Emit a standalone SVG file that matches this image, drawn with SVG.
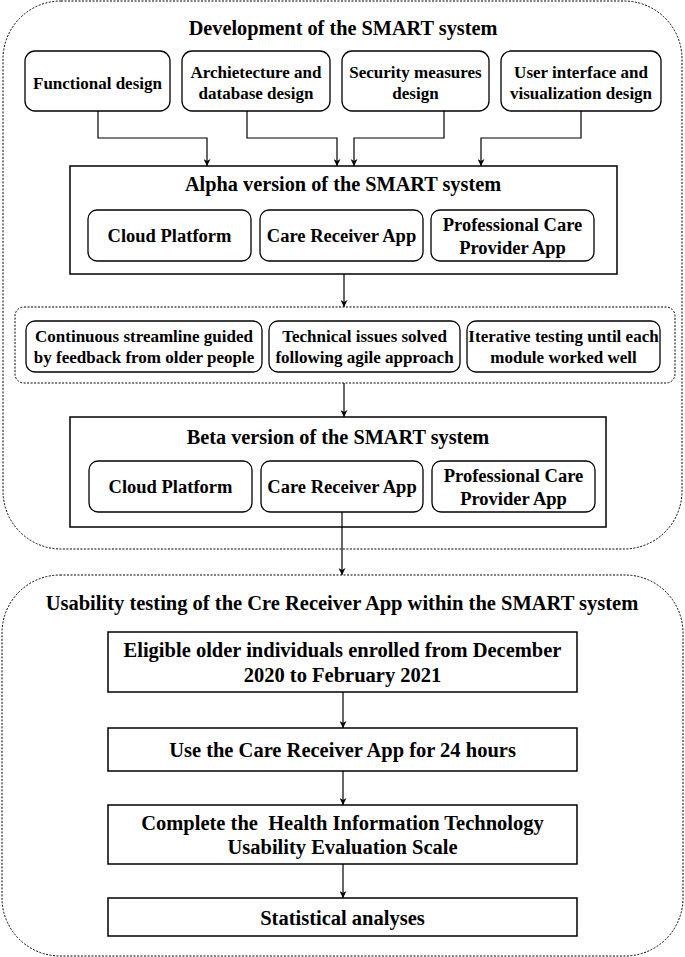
<svg xmlns="http://www.w3.org/2000/svg" width="685" height="957" viewBox="0 0 685 957">
<style>
text{font-family:"Liberation Serif","Times New Roman",serif;font-weight:bold;fill:#000;text-anchor:middle}
.t1{font-size:20.3px}
.t2{font-size:17px}
.t3{font-size:18.5px}
.t4{font-size:17px}
.t5{font-size:20.5px}
.grp{fill:none;stroke:#000;stroke-width:1;stroke-dasharray:2 1.5}
.rbox{fill:#fff;stroke:#000;stroke-width:1.3}
.sbox{fill:#fff;stroke:#000;stroke-width:1.5}
.conn{fill:none;stroke:#000;stroke-width:1.2}
</style>
<defs>
<marker id="arr" viewBox="0 0 10 10" refX="10" refY="5" markerWidth="7" markerHeight="7" orient="auto" markerUnits="userSpaceOnUse">
<path d="M0,0 L10,5 L0,10 L3,5 Z" fill="#000"/>
</marker>
</defs>

<g id="dev-group">
<rect class="grp" x="3" y="1" width="679" height="548" rx="58"/>
<text class="t1" x="343" y="35">Development of the SMART system</text>
</g>

<g id="functional">
<rect class="rbox" x="25" y="51" width="145" height="60" rx="10"/>
<text class="t2" x="97.5" y="89">Functional design</text>
</g>
<g id="architecture">
<rect class="rbox" x="182" y="51" width="148" height="60" rx="10"/>
<text class="t2" x="256" y="78">Archietecture and</text>
<text class="t2" x="256" y="99">database design</text>
</g>
<g id="security">
<rect class="rbox" x="342" y="51" width="147" height="60" rx="10"/>
<text class="t2" x="415.5" y="78">Security measures</text>
<text class="t2" x="415.5" y="99">design</text>
</g>
<g id="ui">
<rect class="rbox" x="501" y="51" width="160" height="60" rx="10"/>
<text class="t2" x="581" y="78">User interface and</text>
<text class="t2" x="581" y="99">visualization design</text>
</g>

<g id="alpha">
<rect class="sbox" x="70" y="166" width="547" height="108"/>
<text class="t1" x="343" y="191">Alpha version of the SMART system</text>
<rect class="rbox" x="88" y="210" width="163" height="51" rx="9"/>
<text class="t3" x="169.5" y="242">Cloud Platform</text>
<rect class="rbox" x="260" y="210" width="163" height="51" rx="9"/>
<text class="t3" x="341.5" y="242">Care Receiver App</text>
<rect class="rbox" x="431" y="210" width="163" height="51" rx="9"/>
<text class="t3" x="512.5" y="231">Professional Care</text>
<text class="t3" x="512.5" y="254">Provider App</text>
</g>

<g id="iteration">
<rect class="grp" x="15" y="307" width="660" height="76" rx="9"/>
<rect class="rbox" x="26" y="321" width="236" height="51" rx="9"/>
<text class="t4" x="144" y="342">Continuous streamline guided</text>
<text class="t4" x="144" y="363">by feedback from older people</text>
<rect class="rbox" x="269" y="321" width="191" height="51" rx="9"/>
<text class="t4" x="364.5" y="342">Technical issues solved</text>
<text class="t4" x="364.5" y="363">following agile approach</text>
<rect class="rbox" x="467" y="321" width="193" height="51" rx="9"/>
<text class="t4" x="563.5" y="342">Iterative testing until each</text>
<text class="t4" x="563.5" y="363">module worked well</text>
</g>

<g id="beta">
<rect class="sbox" x="70" y="417" width="536" height="110"/>
<text class="t1" x="338" y="444">Beta version of the SMART system</text>
<rect class="rbox" x="89" y="461" width="163" height="51" rx="9"/>
<text class="t3" x="170.5" y="493">Cloud Platform</text>
<rect class="rbox" x="261" y="461" width="162" height="51" rx="9"/>
<text class="t3" x="342" y="493">Care Receiver App</text>
<rect class="rbox" x="432" y="461" width="163" height="51" rx="9"/>
<text class="t3" x="513.5" y="482">Professional Care</text>
<text class="t3" x="513.5" y="505">Provider App</text>
</g>

<g id="usability-group">
<rect class="grp" x="2" y="575" width="681" height="381" rx="58"/>
<text class="t5" x="342" y="610">Usability testing of the Cre Receiver App within the SMART system</text>
</g>

<g id="enrolled">
<rect class="sbox" x="108" y="632" width="469" height="60"/>
<text class="t5" x="342.5" y="657">Eligible older individuals enrolled from December</text>
<text class="t5" x="342.5" y="682">2020 to February 2021</text>
</g>
<g id="use-app">
<rect class="sbox" x="108" y="728" width="469" height="43"/>
<text class="t5" x="342.5" y="757">Use the Care Receiver App for 24 hours</text>
</g>
<g id="complete">
<rect class="sbox" x="108" y="805" width="469" height="59"/>
<text class="t5" x="342.5" y="830" xml:space="preserve" style="white-space:pre">Complete the  Health Information Technology</text>
<text class="t5" x="342.5" y="854">Usability Evaluation Scale</text>
</g>
<g id="stats">
<rect class="sbox" x="108" y="898" width="469" height="38"/>
<text class="t5" x="342.5" y="925">Statistical analyses</text>
</g>

<g id="connectors">
<path class="conn" d="M98,111 V138 H207 V166" marker-end="url(#arr)"/>
<path class="conn" d="M247,111 V138 H337 V166" marker-end="url(#arr)"/>
<path class="conn" d="M444,111 V138 H354 V166" marker-end="url(#arr)"/>
<path class="conn" d="M581,111 V138 H481 V166" marker-end="url(#arr)"/>
<path class="conn" d="M344,274 V307" marker-end="url(#arr)"/>
<path class="conn" d="M344,383 V417" marker-end="url(#arr)"/>
<path class="conn" d="M342,512 V575" marker-end="url(#arr)"/>
<path class="conn" d="M343,692 V728" marker-end="url(#arr)"/>
<path class="conn" d="M343,771 V805" marker-end="url(#arr)"/>
<path class="conn" d="M343,864 V898" marker-end="url(#arr)"/>
</g>
</svg>
